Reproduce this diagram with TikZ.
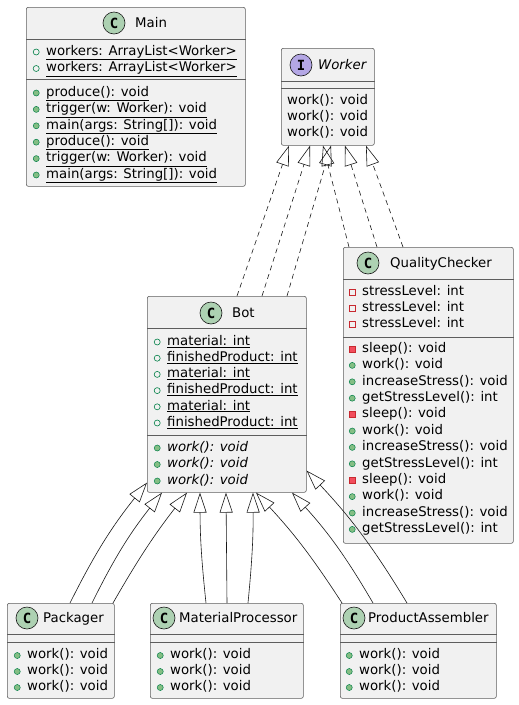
\documentclass[tikz,border=0pt]{standalone}
\usepackage{fontspec}
\setmainfont{DejaVu Sans}[ItalicFont={DejaVu Sans Oblique},BoldFont={DejaVu Sans Bold}]
\newfontfamily\iconfont{DejaVu Sans Mono}[BoldFont={DejaVu Sans Mono Bold}]
\usetikzlibrary{arrows.meta}
\definecolor{boxfill}{HTML}{F1F1F1}
\definecolor{boxline}{HTML}{181818}
\definecolor{classgreen}{HTML}{ADD1B2}
\definecolor{ifacepurple}{HTML}{B4A7E5}
\definecolor{pubfill}{HTML}{84BE84}
\definecolor{publine}{HTML}{038048}
\definecolor{privfill}{HTML}{F24D5C}
\definecolor{privline}{HTML}{C82930}
\tikzset{
  classbox/.style={draw=boxline!70, line width=0.6pt, fill=boxfill, rounded corners=2pt, anchor=north west, inner sep=0pt},
  sepline/.style={draw=boxline!70, line width=0.6pt},
  cicon/.style={circle, draw=boxline, line width=0.6pt, fill=classgreen, minimum size=22pt, inner sep=0pt, font=\iconfont\bfseries\fontsize{14}{14}\selectfont},
  iicon/.style={cicon, fill=ifacepurple},
  title/.style={anchor=west, inner sep=0pt, text height=11pt, text depth=2pt, font=\fontsize{13.3}{16}\selectfont},
  row/.style={anchor=west, inner sep=0pt, text height=9.5pt, text depth=3pt, font=\fontsize{13.3}{16}\selectfont},
  pubdot/.style={circle, draw=publine, line width=0.5pt, fill=pubfill, minimum size=6pt, inner sep=0pt},
  pubring/.style={circle, draw=publine, line width=0.6pt, minimum size=6pt, inner sep=0pt},
  privsq/.style={rectangle, draw=privline, line width=0.5pt, fill=privfill, minimum size=6pt, inner sep=0pt},
  privbox/.style={rectangle, draw=privline, line width=0.6pt, minimum size=6pt, inner sep=0pt},
  pubmeth/.style={row, label={[pubdot]left:{}}},
  pubfield/.style={row, label={[pubring]left:{}}},
  privmeth/.style={row, label={[privsq]left:{}}},
  privfield/.style={row, label={[privbox]left:{}}},
  implement/.style={draw=boxline, line width=0.6pt, dash pattern=on 5pt off 4pt, -{Triangle[open,length=20pt,width=13pt]}},
  inherit/.style={draw=boxline, line width=0.6pt, -{Triangle[open,length=20pt,width=13pt]}},
}
\begin{document}
\begin{tikzpicture}[x=1pt, y=1pt, label distance=6.5pt]
  \useasboundingbox (0,0) rectangle (519,-705);

  % Main
  \node[classbox, minimum width=219pt, minimum height=179pt] (main) at (26,-7) {};
  \draw[sepline] ([yshift=-32pt]main.north west) -- ([yshift=-32pt]main.north east);
  \draw[sepline] ([yshift=-72pt]main.north west) -- ([yshift=-72pt]main.north east);
  \node[cicon] (mainC) at (114,-23) {C};
  \node[title] (mainT) at (135,-23) {Main};
  \foreach \k in {0,1}
    \node[pubfield] (mainf\k) at (46,{-52-16.5*\k}) {\underline{workers: ArrayList<Worker>}};
  \foreach \k in {0,1} {
    \node[pubmeth] (mainprod\k) at (46,{-93-49.2*\k}) {\underline{produce(): void}};
    \node[pubmeth] (maintrig\k) at (46,{-109.4-49.2*\k}) {\underline{trigger(w: Worker): void}};
    \node[pubmeth] (mainmain\k) at (46,{-125.8-49.2*\k}) {\underline{main(args: String[]): void}};
  }

  % Worker
  \node[classbox, minimum width=93pt, minimum height=97pt] (worker) at (281,-48) {};
  \draw[sepline] ([yshift=-33pt]worker.north west) -- ([yshift=-33pt]worker.north east);
  \draw[sepline] ([yshift=-40pt]worker.north west) -- ([yshift=-40pt]worker.north east);
  \node[iicon] (workerI) at (301,-65) {I};
  \node[title, font=\itshape\fontsize{13.3}{16}\selectfont] (workerT) at (318,-65) {Worker};
  \foreach \k in {0,1,2}
    \node[row] (workerm\k) at (287,{-101-16*\k}) {work(): void};

  % Bot
  \node[classbox, minimum width=159pt, minimum height=196pt] (bot) at (147,-296) {};
  \draw[sepline] ([yshift=-32pt]bot.north west) -- ([yshift=-32pt]bot.north east);
  \draw[sepline] ([yshift=-139pt]bot.north west) -- ([yshift=-139pt]bot.north east);
  \node[cicon] (botC) at (211,-313) {C};
  \node[title] (botT) at (232,-313) {Bot};
  \foreach \k in {0,1,2} {
    \node[pubfield] (botmat\k) at (167,{-342-32.4*\k}) {\underline{material: int}};
    \node[pubfield] (botfin\k) at (167,{-358.2-32.4*\k}) {\underline{finishedProduct: int}};
    \node[pubmeth] (botm\k) at (167,{-448-16.5*\k}) {\itshape work(): void};
  }

  % QualityChecker
  \node[classbox, minimum width=170pt, minimum height=296pt] (qc) at (343,-247) {};
  \draw[sepline] ([yshift=-32pt]qc.north west) -- ([yshift=-32pt]qc.north east);
  \draw[sepline] ([yshift=-90pt]qc.north west) -- ([yshift=-90pt]qc.north east);
  \node[cicon] (qcC) at (368,-263) {C};
  \node[title] (qcT) at (390,-263) {QualityChecker};
  \foreach \k in {0,1,2} {
    \node[privfield] (qcf\k) at (362,{-292-16*\k}) {stressLevel: int};
    \node[privmeth] (qcsleep\k) at (362,{-349-65.6*\k}) {sleep(): void};
    \node[pubmeth] (qcwork\k) at (362,{-365.4-65.6*\k}) {work(): void};
    \node[pubmeth] (qcinc\k) at (362,{-381.8-65.6*\k}) {increaseStress(): void};
    \node[pubmeth] (qcget\k) at (362,{-398.2-65.6*\k}) {getStressLevel(): int};
  }

  % subclasses of Bot
  \node[classbox, minimum width=107pt, minimum height=95pt] (pack) at (7,-603) {};
  \node[classbox, minimum width=153pt, minimum height=95pt] (matproc) at (150,-603) {};
  \node[classbox, minimum width=156pt, minimum height=95pt] (prodasm) at (340,-603) {};
  \foreach \n in {pack,matproc,prodasm} {
    \draw[sepline] ([yshift=-31pt]\n.north west) -- ([yshift=-31pt]\n.north east);
    \draw[sepline] ([yshift=-39pt]\n.north west) -- ([yshift=-39pt]\n.north east);
  }
  \node[cicon] (packC) at (27,-618) {C};
  \node[title] (packT) at (43,-618) {Packager};
  \node[cicon] (matprocC) at (164,-618) {C};
  \node[title] (matprocT) at (179,-618) {MaterialProcessor};
  \node[cicon] (prodasmC) at (354,-618) {C};
  \node[title] (prodasmT) at (368,-618) {ProductAssembler};
  \foreach \k in {0,1,2} {
    \node[pubmeth] (packm\k) at (27,{-655.5-16*\k}) {work(): void};
    \node[pubmeth] (matprocm\k) at (170,{-655.5-16*\k}) {work(): void};
    \node[pubmeth] (prodasmm\k) at (359,{-655.5-16*\k}) {work(): void};
  }

  % realisations of Worker
  \draw[implement] ([xshift=90pt]bot.north west) -- ([xshift=8pt]worker.south west);
  \draw[implement] ([xshift=115pt]bot.north west) -- ([xshift=29pt]worker.south west);
  \draw[implement] ([xshift=140pt]bot.north west) -- ([xshift=50pt]worker.south west);
  \draw[implement] ([xshift=6pt]qc.north west) -- ([xshift=42pt]worker.south west);
  \draw[implement] ([xshift=34pt]qc.north west) -- ([xshift=64pt]worker.south west);
  \draw[implement] ([xshift=60pt]qc.north west) -- ([xshift=85pt]worker.south west);

  % generalisations of Bot
  \draw[inherit] ([xshift=63pt]pack.north west) to[bend left=6] ([yshift=10pt]bot.south west);
  \draw[inherit] ([xshift=85pt]pack.north west) to[bend left=6] ([xshift=15pt]bot.south west);
  \draw[inherit] ([xshift=106pt]pack.north west) to[bend left=4] ([xshift=40pt]bot.south west);
  \draw[inherit] ([xshift=56pt]matproc.north west) to[bend left=3] ([xshift=53pt]bot.south west);
  \draw[inherit] ([xshift=77pt]matproc.north west) -- ([xshift=79pt]bot.south west);
  \draw[inherit] ([xshift=98pt]matproc.north west) to[bend right=3] ([xshift=106pt]bot.south west);
  \draw[inherit] ([xshift=2pt]prodasm.north west) to[bend right=5] ([xshift=109pt]bot.south west);
  \draw[inherit] ([xshift=33pt]prodasm.north west) to[bend right=6] ([xshift=145pt]bot.south west);
  \draw[inherit] ([xshift=67pt]prodasm.north west) to[bend right=6] ([yshift=22pt]bot.south east);
\end{tikzpicture}
\end{document}
